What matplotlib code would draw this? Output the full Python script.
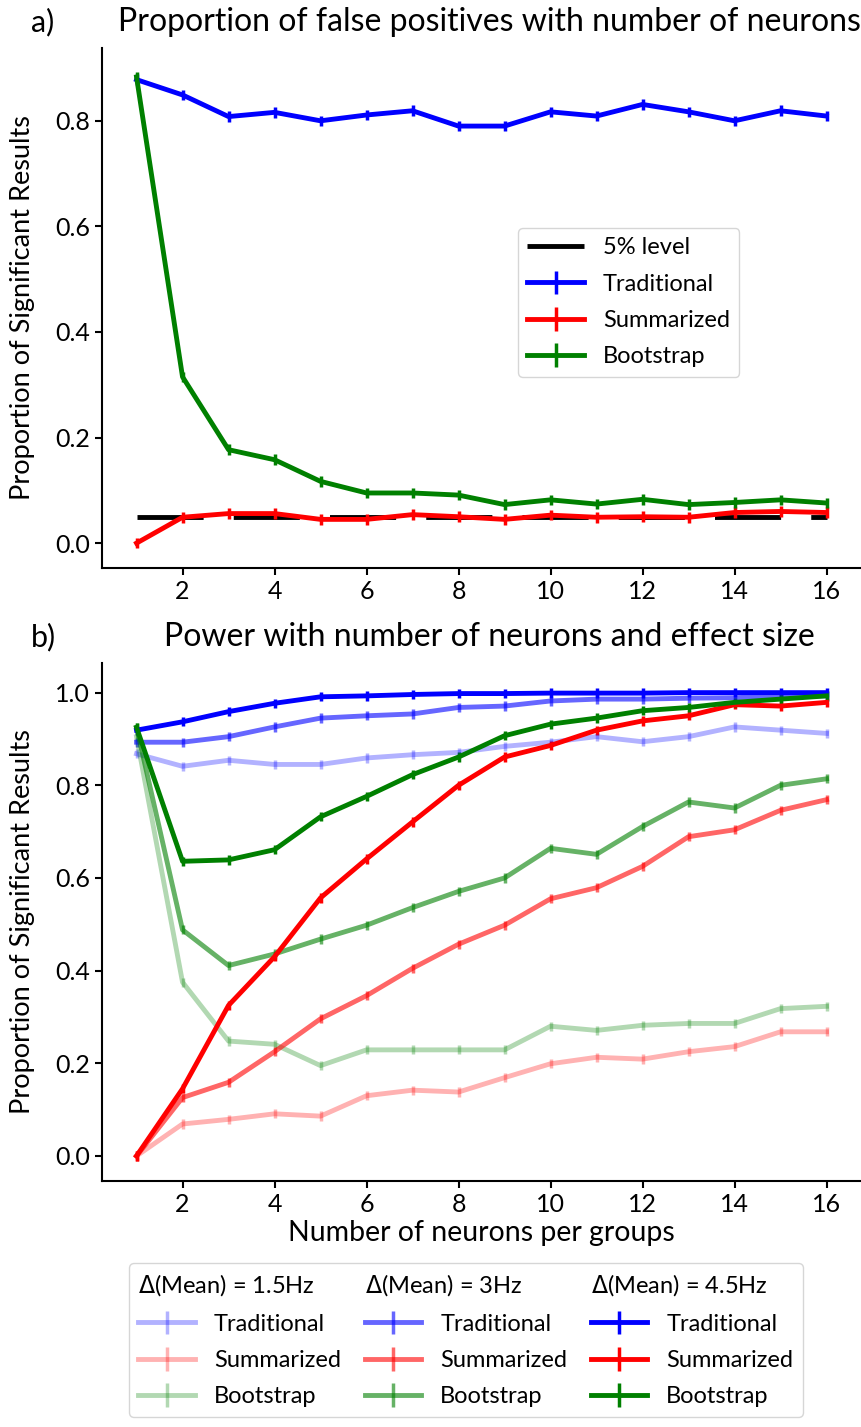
import matplotlib.pyplot as plt
import matplotlib.transforms as mtransforms
from matplotlib.lines import Line2D

plt.rcParams['font.family'] = ['Lato', 'DejaVu Sans']
plt.rcParams['font.size'] = 17

neurons = list(range(1, 17))

# a) false positives (no real difference between groups)
fp_level = 0.05
fp_traditional = [0.878, 0.849, 0.808, 0.816, 0.800, 0.811, 0.819, 0.790,
                  0.790, 0.817, 0.809, 0.831, 0.817, 0.800, 0.819, 0.809]
fp_summarized = [0.000, 0.049, 0.056, 0.056, 0.045, 0.045, 0.054, 0.050,
                 0.045, 0.053, 0.049, 0.050, 0.049, 0.058, 0.060, 0.058]
fp_bootstrap = [0.883, 0.315, 0.177, 0.158, 0.117, 0.095, 0.095, 0.091,
                0.073, 0.082, 0.074, 0.083, 0.073, 0.077, 0.082, 0.076]

# b) power, one list per method and effect size
trad_15 = [0.868, 0.841, 0.854, 0.845, 0.845, 0.859, 0.866, 0.871,
           0.884, 0.893, 0.905, 0.894, 0.905, 0.926, 0.919, 0.912]
trad_3 = [0.893, 0.893, 0.905, 0.926, 0.945, 0.950, 0.954, 0.968,
          0.971, 0.982, 0.986, 0.986, 0.988, 0.989, 0.993, 0.993]
trad_45 = [0.919, 0.937, 0.959, 0.977, 0.991, 0.993, 0.996, 0.998,
           0.998, 0.999, 0.999, 0.999, 1.000, 1.000, 1.000, 1.000]
summ_15 = [0.000, 0.069, 0.079, 0.091, 0.086, 0.130, 0.142, 0.138,
           0.169, 0.199, 0.213, 0.209, 0.225, 0.236, 0.268, 0.268]
summ_3 = [0.000, 0.126, 0.159, 0.225, 0.296, 0.346, 0.405, 0.457,
          0.498, 0.555, 0.579, 0.625, 0.689, 0.704, 0.746, 0.769]
summ_45 = [0.000, 0.145, 0.325, 0.430, 0.557, 0.641, 0.721, 0.800,
           0.861, 0.886, 0.919, 0.939, 0.950, 0.974, 0.971, 0.979]
boot_15 = [0.905, 0.375, 0.248, 0.241, 0.195, 0.229, 0.229, 0.229,
           0.229, 0.280, 0.271, 0.282, 0.286, 0.286, 0.318, 0.323]
boot_3 = [0.925, 0.488, 0.411, 0.436, 0.468, 0.498, 0.536, 0.571,
          0.600, 0.664, 0.651, 0.711, 0.764, 0.751, 0.800, 0.814]
boot_45 = [0.925, 0.636, 0.639, 0.661, 0.732, 0.776, 0.823, 0.861,
           0.907, 0.932, 0.945, 0.961, 0.968, 0.979, 0.986, 0.993]

err = 0.01
effect_labels = ['$\\Delta$(Mean) = 1.5Hz', '$\\Delta$(Mean) = 3Hz',
                 '$\\Delta$(Mean) = 4.5Hz']
effect_alpha = [0.3, 0.6, 1.0]

fig = plt.figure(figsize=(8.61, 14.27), dpi=100)
ax1 = fig.add_axes([0.1185, 0.602, 0.8815, 0.3644])
ax2 = fig.add_axes([0.1185, 0.1724, 0.8815, 0.363])

lw = 3.5
ax1.plot([neurons[0], neurons[-1]], [fp_level, fp_level], color='black',
         lw=lw, linestyle=(0, (13.6, 6.2)), label='5% level')
ax1.errorbar(neurons, fp_traditional, yerr=err, color='blue', lw=lw,
             elinewidth=2.5, label='Traditional')
ax1.errorbar(neurons, fp_summarized, yerr=err, color='red', lw=lw,
             elinewidth=2.5, label='Summarized')
ax1.errorbar(neurons, fp_bootstrap, yerr=err, color='green', lw=lw,
             elinewidth=2.5, label='Bootstrap')
ax1.set_ylim(-0.047, 0.938)
ax1.set_yticks([0.0, 0.2, 0.4, 0.6, 0.8])
ax1.legend(loc='upper left', bbox_to_anchor=(0.548, 0.654), borderaxespad=0,
           handlelength=2.4, labelspacing=0.65, fontsize=17)
ax1.set_title('Proportion of false positives with number of neurons',
              fontsize=23, pad=12, x=0.511)

handles = []
groups = [(trad_15, summ_15, boot_15), (trad_3, summ_3, boot_3),
          (trad_45, summ_45, boot_45)]
for label, alpha, (tr, su, bo) in zip(effect_labels, effect_alpha, groups):
    handles.append(Line2D([], [], alpha=0, label=label))
    for vals, col, name in [(tr, 'blue', 'Traditional'), (su, 'red', 'Summarized'),
                            (bo, 'green', 'Bootstrap')]:
        h = ax2.errorbar(neurons, vals, yerr=err, color=col, lw=lw,
                         elinewidth=2.5, alpha=alpha, label=name)
        handles.append(h)
ax2.set_ylim(-0.054, 1.064)
ax2.set_yticks([0.0, 0.2, 0.4, 0.6, 0.8, 1.0])
ax2.set_xlabel('Number of neurons per groups', fontsize=20.5, labelpad=3)
ax2.set_title('Power with number of neurons and effect size',
              fontsize=23, pad=12, x=0.511)

for ax, tag in ((ax1, 'a)'), (ax2, 'b)')):
    # panel letter on the same baseline as the title
    trans = mtransforms.offset_copy(ax.transAxes, fig=fig, y=12, units='points')
    ax.text(-0.0935, 1.0, tag, transform=trans, fontsize=22,
            va='baseline', ha='left')
    ax.set_xlim(0.25, 16.75)
    ax.set_xticks(range(2, 17, 2))
    ax.spines['top'].set_visible(False)
    ax.spines['right'].set_visible(False)
    ax.spines['left'].set_linewidth(1.5)
    ax.spines['bottom'].set_linewidth(1.5)
    ax.tick_params(length=5, width=1.5, labelsize=18)
    ax.set_ylabel('Proportion of Significant Results', fontsize=19.5)
    ax.yaxis.set_label_coords(-0.088, 0.5)

leg = fig.legend(handles=handles, ncol=3, loc='upper left',
                 bbox_to_anchor=(0.1498, 0.1149), borderaxespad=0,
                 handlelength=2.4, columnspacing=1.0, labelspacing=0.65,
                 fontsize=17)
# header entries: no handle, text starts at the column edge
for col in leg._legend_handle_box.get_children():
    for item in col.get_children():
        hbox, tbox = item.get_children()
        if 'Mean' in tbox._text.get_text():
            hbox.width = 0
            item.sep = 0

fig.savefig('out.png', dpi=100)
